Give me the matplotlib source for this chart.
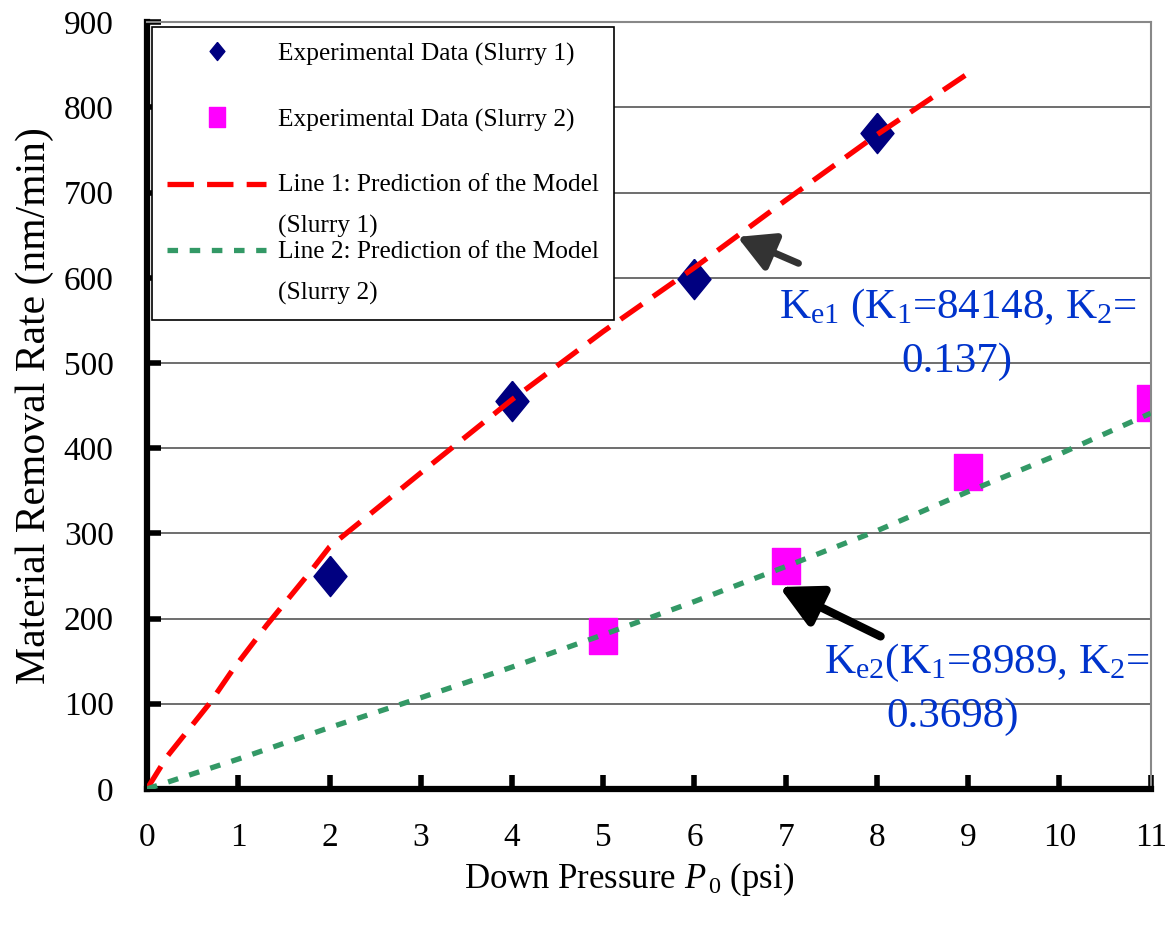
import numpy as np
import matplotlib
matplotlib.use("Agg")
import matplotlib.pyplot as plt
from matplotlib.lines import Line2D
from matplotlib.legend_handler import HandlerLine2D

plt.rcParams['font.family'] = ['Liberation Serif', 'DejaVu Serif']
plt.rcParams['mathtext.fontset'] = 'custom'
plt.rcParams['mathtext.rm'] = 'Liberation Serif'
plt.rcParams['mathtext.it'] = 'Liberation Serif:italic'

# experimental data
p_s1 = [2, 4, 6, 8]
mrr_s1 = [250, 455, 598, 770]
p_s2 = [5, 7, 9, 11]
mrr_s2 = [180, 262, 372, 453]

# model predictions
p_line1 = [0, 0.22, 0.69, 0.94, 1.31, 1.79, 2, 3, 4, 5, 6, 7, 8, 9]
mrr_line1 = [0, 38, 101, 140, 192, 255, 284, 371, 457, 537, 612, 691, 768, 840]
p_line2 = [0, 1, 2, 3, 4, 5, 6, 7, 8, 9, 10, 11]
mrr_line2 = [0, 35, 72, 107, 143, 181, 220, 261, 303, 349, 393, 441]

xticks = list(range(0, 12))
yticks = list(range(0, 1000, 100))

diamond = [(0, 1), (0.82, 0), (0, -1), (-0.82, 0), (0, 1)]
rect = [(-0.39, -0.5), (0.39, -0.5), (0.39, 0.5), (-0.39, 0.5), (-0.39, -0.5)]


class TopHandler(HandlerLine2D):
    # puts the legend sample next to the first line of a two-line label
    def __init__(self, dy, **kw):
        super().__init__(**kw)
        self.dy = dy

    def create_artists(self, legend, orig_handle, xdescent, ydescent,
                       width, height, fontsize, trans):
        arts = super().create_artists(legend, orig_handle, xdescent, ydescent,
                                      width, height, fontsize, trans)
        for a in arts:
            a.set_ydata(np.asarray(a.get_ydata()) + self.dy)
        return arts


fig = plt.figure(figsize=(11.67, 9.27), dpi=100)
ax = fig.add_axes([0.126, 0.149, 0.86, 0.827])

for yv in yticks[1:]:
    ax.axhline(yv, color='#555555', lw=1.2, zorder=1)

ax.plot(p_line1, mrr_line1, color='#ff0000', lw=3.8, dashes=(5, 2.5), zorder=3)
ax.plot(p_line2, mrr_line2, color='#339966', lw=3.8, dashes=(2, 2.2), zorder=3)
ax.plot(p_s1, mrr_s1, ls='none', marker=diamond, ms=29, color='#000080', zorder=2)
ax.plot(p_s2, mrr_s2, ls='none', marker=rect, ms=26, color='#ff00ff', zorder=2)

ax.set_xlim(0, 11)
ax.set_ylim(0, 900)
ax.set_xticks(xticks)
ax.set_yticks(yticks)
ax.tick_params(axis='both', direction='in', length=10, width=4, labelsize=24)
ax.tick_params(axis='x', pad=24)
ax.tick_params(axis='y', pad=24)

for s in ['left', 'bottom']:
    ax.spines[s].set_linewidth(4.5)
    ax.spines[s].set_color('black')
for s in ['top', 'right']:
    ax.spines[s].set_linewidth(1.5)
    ax.spines[s].set_color('#888888')

ax.set_xlabel('Down Pressure $\\mathit{P}_{\\,0}$ (psi)', fontsize=25, labelpad=5)
ax.xaxis.label.set_x(0.48)
ax.set_ylabel('Material Removal Rate (nm/min)', fontsize=30, labelpad=7)

handles = [
    Line2D([], [], ls='none', marker=diamond, ms=13, color='#000080'),
    Line2D([], [], ls='none', marker=rect, ms=14, color='#ff00ff'),
    Line2D([], [], color='#ff0000', lw=3.8, dashes=(5, 2.5)),
    Line2D([], [], color='#339966', lw=3.8, dashes=(2, 2.2)),
]
labels = ['Experimental Data (Slurry 1)\n ',
          'Experimental Data (Slurry 2)\n ',
          'Line 1: Prediction of the Model\n(Slurry 1)',
          'Line 2: Prediction of the Model\n(Slurry 2)']
hmap = {h: TopHandler(16) for h in handles}
leg = ax.legend(handles, labels, loc='upper left', bbox_to_anchor=(0.005, 0.9935),
                borderaxespad=0, fontsize=18.3, handlelength=3.9, handletextpad=0.45,
                labelspacing=0.12, fancybox=False, edgecolor='black', framealpha=1,
                borderpad=0.6, handler_map=hmap)
leg.get_frame().set_linewidth(1.2)
for t in leg.get_texts():
    t.set_linespacing(2.05)

ax.annotate('', xy=(6.47, 648), xytext=(7.14, 617),
            arrowprops=dict(arrowstyle='-|>,head_length=2.2,head_width=1.2',
                            color='#333333', lw=5, shrinkA=0, shrinkB=0), zorder=5)
ax.annotate('', xy=(6.93, 237), xytext=(8.04, 179),
            arrowprops=dict(arrowstyle='-|>,head_length=2.5,head_width=1.3',
                            color='black', lw=6, shrinkA=0, shrinkB=0), zorder=5)

kw = dict(ha='center', va='baseline', fontsize=31, color='#0033cc', zorder=6)
ax.text(8.89, 553, '$\\mathrm{K}_{\\mathrm{e1}}$ ($\\mathrm{K}_{1}$=84148, $\\mathrm{K}_{2}$=', **kw)
ax.text(8.88, 489, '0.137)', **kw)
ax.text(9.21, 136, '$\\mathrm{K}_{\\mathrm{e2}}$($\\mathrm{K}_{1}$=8989, $\\mathrm{K}_{2}$=', **kw)
ax.text(8.83, 73, '0.3698)', **kw)

fig.savefig('out.png', dpi=100)
